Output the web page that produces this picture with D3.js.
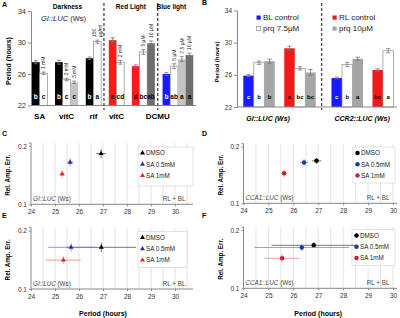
<!DOCTYPE html>
<html>
<head>
<meta charset="utf-8">
<script src="https://cdn.jsdelivr.net/npm/d3@7"></script>
<style>
  body { margin: 0; background: #fff; }
  svg { font-family: "Liberation Sans", Arial, sans-serif; }
</style>
</head>
<body>
<svg id="fig" width="400" height="318"></svg>
<script>
// ---------- panel A: GI::LUC period under drugs and light ----------
const aCategory  = ['SA','SA','vitC','vitC','vitC','rif','rif','vitC','vitC','DCMU','DCMU','DCMU','DCMU','DCMU','DCMU','DCMU'];
const aLight     = ['Darkness','Darkness','Darkness','Darkness','Darkness','Darkness','Darkness',
                    'Red Light','Red Light','Red Light','Red Light','Red Light',
                    'Blue light','Blue light','Blue light','Blue light'];
const aTreatment = ['ctrl','low','ctrl','low','mid','ctrl','low','ctrl','low','ctrl','low','high','ctrl','low','mid','high'];
const aDose      = ['','1 mM','','2 mM','3 mM','','150|µg/ml','','2 mM','','5 µM','10 µM','','5 µM','7.5 µM','10 µM'];
const aPeriod    = [27.5, 26.1, 27.5, 25.3, 24.95, 28.0, 30.1, 30.3, 27.5, 27.0, 28.8, 29.9, 26.0, 27.0, 27.9, 28.4];
const aSem       = [0.2, 0.15, 0.25, 0.15, 0.15, 0.15, 0.2, 0.3, 0.25, 0.15, 0.3, 0.3, 0.2, 0.3, 0.3, 0.25];
const aLetter    = ['b','c','b','c','c','b','a','a','cd','d','bc','ab','b','ab','a','a'];
const periodTicks = [22, 26, 30, 34];

// ---------- panel B: prq in blue / red light ----------
const bGenotype  = ['GI::LUC','GI::LUC','GI::LUC','GI::LUC','GI::LUC','GI::LUC',
                    'CCR2::LUC','CCR2::LUC','CCR2::LUC','CCR2::LUC','CCR2::LUC'];
const bLight     = ['BL','BL','BL','RL','RL','RL','BL','BL','BL','RL','RL'];
const bTreatment = ['control','prq 7.5µM','prq 10µM','control','prq 7.5µM','prq 10µM',
                    'control','prq 7.5µM','prq 10µM','control','prq 7.5µM'];
const bPeriod    = [25.9, 27.5, 27.7, 29.3, 26.8, 26.3, 25.6, 27.3, 28.0, 26.6, 29.0];
const bSem       = [0.12, 0.2, 0.25, 0.25, 0.2, 0.35, 0.1, 0.25, 0.2, 0.15, 0.25];
const bLetter    = ['c','b','b','a','bc','bc','c','b','a','bc','a'];
const bLegend    = ['BL control','RL control','prq 7.5µM','prq 10µM'];

// ---------- panels C-F: RAE vs period ----------
const rSeries = ['DMSO','SA 0.5mM','SA 1mM'];
const periodAxisTicks = [24, 25, 26, 27, 28, 29, 30];
const raeTicks = [0.1, 0.2];
const cPeriod = [26.92, 25.63, 25.30], cPeriodErr = [0.2, 0.14, 0.1],  cRAE = [0.187, 0.172, 0.152],  cRAEErr = [0.008, 0.007, 0.006];
const dPeriod = [26.93, 26.43, 25.63], dPeriodErr = [0.19, 0.16, 0.06], dRAE = [0.175, 0.172, 0.153],  dRAEErr = [0.005, 0.006, 0.007];
const ePeriod = [26.93, 25.67, 25.35], ePeriodErr = [1.45, 0.95, 0.73], eRAE = [0.1715, 0.1715, 0.1495], eRAEErr = [0.008, 0.007, 0.006];
const fPeriod = [26.82, 26.34, 25.55], fPeriodErr = [1.7, 1.9, 0.7],   fRAE = [0.1737, 0.170, 0.1515], fRAEErr = [0.005, 0.006, 0.007];


const svg = d3.select('#fig');
svg.append('rect').attr('width', 400).attr('height', 318).attr('fill', '#fff');

function panelLetter(t, x, y) {
  svg.append('text').attr('x', x).attr('y', y).text(t)
     .attr('font-size', 7).attr('font-weight', 'bold');
}

// place bars on a slot axis: one slot per bar, extra slots where the group key changes
function slotLayout(keys, gapAt) {
  let pos = 0;
  const starts = [];
  keys.forEach((k, i) => {
    if (i > 0 && k !== keys[i - 1]) pos += gapAt(i);
    starts.push(pos);
    pos += 1;
  });
  return { starts, total: pos };
}

function styleAxis(g, fs) {
  g.select('.domain').attr('stroke', '#888');
  g.selectAll('.tick line').attr('stroke', '#888');
  g.selectAll('.tick text').attr('font-size', fs).attr('fill', '#333')
   .attr('font-family', '"Liberation Sans", Arial, sans-serif');
}

function errorBar(g, cx, y0, y1, cap, color) {
  g.append('line').attr('x1', cx).attr('x2', cx).attr('y1', y0).attr('y2', y1)
   .attr('stroke', color).attr('stroke-width', 0.8);
  [y0, y1].forEach(yy => g.append('line').attr('x1', cx - cap).attr('x2', cx + cap)
   .attr('y1', yy).attr('y2', yy).attr('stroke', color).attr('stroke-width', 0.8));
}

// =================== PANEL A ===================
(function () {
  const keys = aCategory.map((c, i) => c + '|' + aLight[i]);
  const lay = slotLayout(keys, () => 1);
  const x = d3.scaleLinear().domain([0, lay.total]).range([32, 32 + lay.total * 7.68]);
  const y = d3.scaleLinear().domain([22, 34]).range([105.5, 11]);
  const bw = x(1) - x(0);
  const g = svg.append('g');

  const ctrlColor = { 'Darkness': '#000000', 'Red Light': '#ff1a1a', 'Blue light': '#1a1aff' };
  const treatColor = { low: '#ffffff', mid: '#c4c4c4', high: '#6e6e6e' };
  const fill = i => aTreatment[i] === 'ctrl' ? ctrlColor[aLight[i]] : treatColor[aTreatment[i]];

  // dividers between light regimes
  const dividers = [];
  aLight.forEach((l, i) => { if (i > 0 && l !== aLight[i - 1]) dividers.push((lay.starts[i - 1] + 1 + lay.starts[i]) / 2); });

  g.selectAll('rect.bar').data(aPeriod).join('rect')
    .attr('x', (d, i) => x(lay.starts[i]))
    .attr('width', bw)
    .attr('y', d => y(d))
    .attr('height', d => y(22) - y(d))
    .attr('fill', (d, i) => fill(i))
    .attr('stroke', (d, i) => aTreatment[i] === 'low' ? '#8a8a8a' : 'none')
    .attr('stroke-width', 0.7);

  aPeriod.forEach((d, i) => {
    const cx = x(lay.starts[i] + 0.5);
    errorBar(g, cx, y(d - aSem[i]), y(d + aSem[i]), 2, '#777');
    if (aDose[i]) {
      const lines = aDose[i].split('|');
      const t = g.append('text')
        .attr('transform', `translate(${cx + 1.8 - (lines.length - 1) * 2.6},${y(d + aSem[i]) - 3}) rotate(-90)`)
        .attr('font-size', 5).attr('fill', '#222');
      lines.forEach((ln, k) => t.append('tspan').attr('x', 0).attr('dy', k ? 5.2 : 0).text(ln));
    }
    g.append('text').attr('x', cx).attr('y', 99).attr('text-anchor', 'middle')
      .attr('font-size', 6.5).attr('font-weight', 'bold')
      .attr('fill', (aTreatment[i] === 'ctrl' && aLight[i] !== 'Red Light') ? '#fff' : '#000')
      .text(aLetter[i]);
  });

  // axes
  const ya = g.append('g').attr('transform', 'translate(31,0)')
    .call(d3.axisLeft(y).tickValues(periodTicks).tickSize(3).tickPadding(2).tickSizeOuter(0));
  styleAxis(ya, 7.5);
  g.append('line').attr('x1', 31).attr('x2', 196).attr('y1', y(22)).attr('y2', y(22)).attr('stroke', '#888');

  dividers.forEach(s => g.append('line').attr('x1', x(s) - 1).attr('x2', x(s) - 1).attr('y1', 3).attr('y2', 110)
    .attr('stroke', '#555').attr('stroke-width', 1.4).attr('stroke-dasharray', '3,2'));

  // light regime headers
  const lights = [...new Set(aLight)];
  const bounds = [31, ...dividers.map(s => x(s) - 1), 185];
  lights.forEach((l, k) => g.append('text').attr('x', (bounds[k] + bounds[k + 1]) / 2).attr('y', 8.5)
    .attr('text-anchor', 'middle').attr('font-size', 6.5).attr('font-weight', 'bold').text(l));

  // category labels, one per contiguous run
  const runs = [];
  aCategory.forEach((c, i) => {
    if (i === 0 || c !== aCategory[i - 1]) runs.push({ c, first: i, last: i });
    else runs[runs.length - 1].last = i;
  });
  runs.forEach(r => {
    let cx = (x(lay.starts[r.first]) + x(lay.starts[r.last] + 1)) / 2;
    const inner = dividers.find(s => s > lay.starts[r.first] && s < lay.starts[r.last]);
    if (inner !== undefined) cx = x(inner) - 1;
    g.append('text').attr('x', cx).attr('y', 118.5).attr('text-anchor', 'middle')
      .attr('font-size', 8).attr('font-weight', 'bold').text(r.c);
  });

  g.append('text').attr('transform', 'translate(11,61) rotate(-90)').attr('text-anchor', 'middle')
    .attr('font-size', 7).attr('font-weight', 'bold').text('Period (hours)');

  const gl = g.append('text').attr('x', 41).attr('y', 21).attr('font-size', 7.5).attr('fill', '#222');
  gl.append('tspan').attr('font-style', 'italic').text('GI::LUC');
  gl.append('tspan').text(' (Ws)');

  panelLetter('A', 2, 7);
})();

// =================== PANEL B ===================
(function () {
  const keys = bGenotype.map((c, i) => c + '|' + bLight[i]);
  const lay = slotLayout(keys, i => bGenotype[i] !== bGenotype[i - 1] ? 1.5 : 0.9);
  const x = d3.scaleLinear().domain([0, lay.total]).range([243.3, 243.3 + lay.total * 10.5]);
  const y = d3.scaleLinear().domain([22, 34]).range([107, 10.5]);
  const bw = x(1) - x(0);
  const g = svg.append('g');

  const color = t => t.startsWith('BL') ? '#1a1aff' : t.startsWith('RL') ? '#f01a1a' : t === 'prq 7.5µM' ? '#ffffff' : '#a6a6a6';
  const key = i => bTreatment[i] === 'control' ? bLight[i] + ' control' : bTreatment[i];

  g.selectAll('rect.bar').data(bPeriod).join('rect')
    .attr('x', (d, i) => x(lay.starts[i]))
    .attr('width', bw)
    .attr('y', d => y(d))
    .attr('height', d => y(22) - y(d))
    .attr('fill', (d, i) => color(key(i)))
    .attr('stroke', (d, i) => key(i) === 'prq 7.5µM' ? '#8a8a8a' : 'none')
    .attr('stroke-width', 0.7);

  bPeriod.forEach((d, i) => {
    const cx = x(lay.starts[i] + 0.5);
    errorBar(g, cx, y(d - bSem[i]), y(d + bSem[i]), 2.2, '#777');
    g.append('text').attr('x', cx).attr('y', 99).attr('text-anchor', 'middle')
      .attr('font-size', 6).attr('font-weight', 'bold')
      .attr('fill', key(i) === 'BL control' ? '#fff' : key(i) === 'RL control' ? '#400' : '#000')
      .text(bLetter[i]);
  });

  const ya = g.append('g').attr('transform', 'translate(237,0)')
    .call(d3.axisLeft(y).tickValues(periodTicks).tickSize(3).tickPadding(2).tickSizeOuter(0));
  styleAxis(ya, 6.5);
  g.append('line').attr('x1', 237).attr('x2', 397).attr('y1', y(22)).attr('y2', y(22)).attr('stroke', '#888');

  bGenotype.forEach((gt, i) => {
    if (i > 0 && gt !== bGenotype[i - 1]) {
      const s = (lay.starts[i - 1] + 1 + lay.starts[i]) / 2;
      g.append('line').attr('x1', x(s) - 2).attr('x2', x(s) - 2).attr('y1', 3).attr('y2', 110)
        .attr('stroke', '#555').attr('stroke-width', 1.4).attr('stroke-dasharray', '3,2');
    }
    if (i === 0 || gt !== bGenotype[i - 1]) {
      const t = g.append('text').attr('x', x(lay.starts[i]) + 3).attr('y', 121)
        .attr('font-size', 7).attr('font-weight', 'bold').attr('font-style', 'italic');
      t.append('tspan').text(gt);
      t.append('tspan').text(' (Ws)');
    }
  });

  // legend: two columns, two rows
  bLegend.forEach((name, k) => {
    const lx = k % 2 === 0 ? 256.5 : 332.5;
    const ly = k < 2 ? 15.5 : 26.5;
    g.append('rect').attr('x', lx).attr('y', ly).attr('width', 4.2).attr('height', 4.2)
      .attr('fill', color(name)).attr('stroke', name === 'prq 7.5µM' ? '#8a8a8a' : 'none').attr('stroke-width', 0.6);
    g.append('text').attr('x', lx + 6.5).attr('y', ly + 4.4).attr('font-size', 8).attr('fill', '#222').text(name);
  });

  g.append('text').attr('transform', 'translate(219,62) rotate(-90)').attr('text-anchor', 'middle')
    .attr('font-size', 6).attr('font-weight', 'bold').text('Period (hours)');

  panelLetter('B', 202, 5);
})();

// =================== PANELS C-F ===================
function scatterPanel(p) {
  const x = d3.scaleLinear().domain([24, 30]).range([p.left, p.x30]);
  const y = d3.scaleLinear().domain([0.1, 0.2]).range([p.bottom, p.top]);
  const g = svg.append('g');

  const grid = d3.range(24.5, 31, 0.5).filter(v => x(v) <= p.right);
  g.selectAll('line.grid').data(grid).join('line')
    .attr('x1', d => x(d)).attr('x2', d => x(d))
    .attr('y1', p.top - 3).attr('y2', p.bottom)
    .attr('stroke', '#d6d6d6').attr('stroke-width', 0.7);

  const ya = g.append('g').attr('transform', `translate(${p.left},0)`)
    .call(d3.axisLeft(y).tickValues(raeTicks).tickFormat(d3.format('.1f')).tickSize(2).tickPadding(2).tickSizeOuter(0));
  styleAxis(ya, 6.5);
  ya.select('.domain').attr('d', `M-2,${p.top - 3}H0V${p.bottom}`);
  const xa = g.append('g').attr('transform', `translate(0,${p.bottom})`)
    .call(d3.axisBottom(x).tickValues(periodAxisTicks).tickFormat(d3.format('d')).tickSize(2).tickPadding(3).tickSizeOuter(0));
  styleAxis(xa, 6.5);
  xa.select('.domain').attr('d', `M${p.left},0H${p.right}`);

  // gene and light annotations
  const gt = g.append('text').attr('x', p.left + 2).attr('y', p.bottom - 3).attr('font-size', 6.3).attr('fill', '#444');
  gt.append('tspan').attr('font-style', 'italic').text(p.gene);
  gt.append('tspan').text(' (Ws)');
  g.append('text').attr('x', p.right - 7.5).attr('y', p.bottom - 3).attr('text-anchor', 'end')
    .attr('font-size', 6.3).attr('fill', '#444').text('RL + BL');

  // legend
  g.append('rect').attr('x', p.legend[0]).attr('y', p.legend[1]).attr('width', p.legend[2]).attr('height', p.legend[3])
    .attr('fill', '#fff').attr('stroke', '#cfcfcf').attr('stroke-width', 0.6);

  const sym = d3.symbol().type(p.symbol === 'triangle' ? d3.symbolTriangle : d3.symbolCircle)
    .size(p.symbol === 'triangle' ? 11 : 16);

  rSeries.forEach((s, k) => {
    const cx = x(p.period[k]), cy = y(p.rae[k]);
    // horizontal and vertical error bars
    g.append('line').attr('x1', x(p.period[k] - p.periodErr[k])).attr('x2', x(p.period[k] + p.periodErr[k]))
      .attr('y1', cy).attr('y2', cy).attr('stroke', p.errColors[k]).attr('stroke-width', 0.8);
    g.append('line').attr('x1', cx).attr('x2', cx)
      .attr('y1', y(p.rae[k] - p.raeErr[k])).attr('y2', y(p.rae[k] + p.raeErr[k]))
      .attr('stroke', p.errColors[k]).attr('stroke-width', 0.8);
    g.append('path').attr('d', sym).attr('transform', `translate(${cx},${cy})`).attr('fill', p.colors[k]);

    const ly = p.legend[1] + 6 + k * 11.3;
    g.append('path').attr('d', sym).attr('transform', `translate(${p.legend[0] + 4.5},${ly})`).attr('fill', p.colors[k]);
    g.append('text').attr('x', p.legend[0] + 8).attr('y', ly + 2.2).attr('font-size', 6.3).attr('fill', '#222').text(s);
  });

  g.append('text').attr('transform', `translate(${p.left - 21},${(p.top + p.bottom) / 2}) rotate(-90)`)
    .attr('text-anchor', 'middle').attr('font-size', 6.3).attr('font-weight', 'bold').text('Rel. Amp. Err.');

  if (p.xlabel) {
    g.append('text').attr('x', (p.left + p.x30) / 2).attr('y', 316).attr('text-anchor', 'middle')
      .attr('font-size', 7).attr('font-weight', 'bold').text('Period (hours)');
  }
}

const triColors = ['#000000', '#2a2ab8', '#e02828'];
const triErr = ['#555555', '#7a7ad0', '#ef8080'];
const dotColors = ['#000000', '#1c3aa4', '#c2262c'];
const dotErr = ['#555555', '#7c8cd0', '#e88a8a'];

scatterPanel({ left: 31, x30: 175, right: 193, top: 146, bottom: 204.3, gene: 'GI::LUC',
  period: cPeriod, periodErr: cPeriodErr, rae: cRAE, raeErr: cRAEErr,
  symbol: 'triangle', colors: triColors, errColors: triErr, legend: [138, 147, 55, 39], xlabel: false });
scatterPanel({ left: 243.5, x30: 393, right: 397, top: 146.7, bottom: 203.3, gene: 'CCA1::LUC',
  period: dPeriod, periodErr: dPeriodErr, rae: dRAE, raeErr: dRAEErr,
  symbol: 'circle', colors: dotColors, errColors: dotErr, legend: [353, 147, 42, 36], xlabel: false });
scatterPanel({ left: 31, x30: 175, right: 193, top: 230.7, bottom: 289, gene: 'GI::LUC',
  period: ePeriod, periodErr: ePeriodErr, rae: eRAE, raeErr: eRAEErr,
  symbol: 'triangle', colors: triColors, errColors: triErr, legend: [138, 231.5, 49, 36], xlabel: true });
scatterPanel({ left: 243.5, x30: 393, right: 397, top: 230, bottom: 288.3, gene: 'CCA1::LUC',
  period: fPeriod, periodErr: fPeriodErr, rae: fRAE, raeErr: fRAEErr,
  symbol: 'circle', colors: dotColors, errColors: dotErr, legend: [352, 229.5, 43, 36], xlabel: true });

panelLetter('C', 2, 136);
panelLetter('D', 202, 136);
panelLetter('E', 2, 218);
panelLetter('F', 202, 218);
</script>
</body>
</html>
